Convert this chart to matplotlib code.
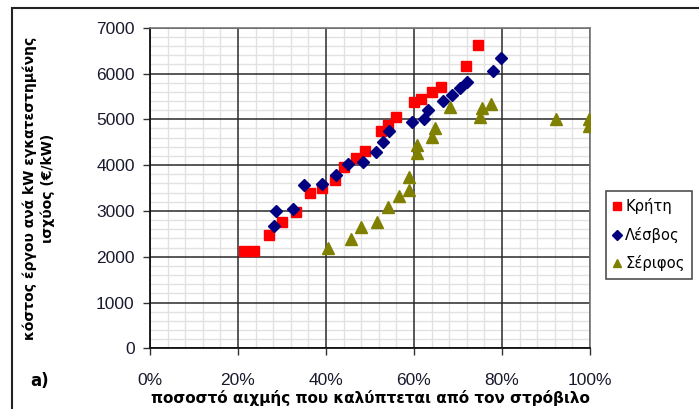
import numpy as np
import matplotlib
matplotlib.use("Agg")
import matplotlib.pyplot as plt
from matplotlib.patches import Rectangle
from matplotlib.ticker import MultipleLocator, PercentFormatter

plt.rcParams["font.family"] = ["Liberation Sans", "DejaVu Sans"]

# percentage of peak covered by the turbine vs. project cost per installed kW
crete_x = [21.4, 23.7, 27.0, 30.1, 33.1, 36.4, 39.2, 42.0, 44.1, 46.9,
           48.8, 52.4, 54.1, 55.9, 59.9, 61.7, 64.0, 66.1, 71.9, 74.6]
crete_y = [2130, 2130, 2470, 2760, 2970, 3385, 3505, 3675, 3960, 4155,
           4310, 4745, 4885, 5040, 5385, 5440, 5605, 5700, 6175, 6620]

lesvos_x = [28.2, 28.6, 32.6, 34.9, 39.1, 42.3, 45.1, 48.5, 51.4, 52.9,
            54.4, 59.5, 62.3, 63.3, 66.5, 68.6, 70.5, 72.1, 78.0, 79.7]
lesvos_y = [2680, 3000, 3035, 3565, 3595, 3785, 4015, 4070, 4285, 4505,
            4740, 4950, 5015, 5210, 5395, 5525, 5675, 5815, 6055, 6340]

serifos_x = [40.5, 45.6, 47.9, 51.5, 54.2, 56.5, 58.9, 58.8, 60.6, 60.6,
             64.2, 64.8, 68.1, 75.0, 75.4, 77.4, 92.3, 99.8, 99.8]
serifos_y = [2195, 2380, 2640, 2765, 3080, 3335, 3465, 3740, 4260, 4440,
             4620, 4800, 5260, 5060, 5245, 5335, 5015, 5015, 4855]

fig = plt.figure(figsize=(6.99, 4.09), dpi=100)
ax = fig.add_axes([0.2146, 0.1484, 0.6294, 0.7838])

ax.plot(crete_x, crete_y, "s", color="#ff0000", ms=7, mec="#ff0000", label="Κρήτη", zorder=3)
ax.plot(lesvos_x, lesvos_y, "D", color="#000080", ms=6, mec="#000080", label="Λέσβος", zorder=3)
ax.plot(serifos_x, serifos_y, "^", color="#808000", ms=8, mec="#808000", label="Σέριφος", zorder=3)

ax.set_xlim(0, 100)
ax.set_ylim(0, 7000)
ax.xaxis.set_major_locator(MultipleLocator(20))
ax.xaxis.set_minor_locator(MultipleLocator(4))
ax.yaxis.set_major_locator(MultipleLocator(1000))
ax.yaxis.set_minor_locator(MultipleLocator(200))
ax.xaxis.set_major_formatter(PercentFormatter(decimals=0))

# light minor grid from the axis, dark major grid drawn on top of it
ax.grid(which="minor", color="#e2e2e2", lw=1.0)
ax.set_axisbelow(True)
ax.vlines(ax.get_xticks(), 0, 7000, color="#2a2a2a", lw=1.1, zorder=1.5)
ax.hlines(ax.get_yticks(), 0, 100, color="#2a2a2a", lw=1.1, zorder=1.5)
ax.set_xlim(0, 100)
ax.set_ylim(0, 7000)

ax.tick_params(which="minor", length=0)
ax.tick_params(which="major", length=5, width=1, color="#333333",
               labelsize=12.5, labelcolor="#1a1a2e")
ax.tick_params(axis="x", pad=13)
ax.tick_params(axis="y", pad=6)

for side in ("left", "bottom"):
    ax.spines[side].set_color("#111111")
    ax.spines[side].set_linewidth(1.3)
for side in ("top", "right"):
    ax.spines[side].set_color("#777777")
    ax.spines[side].set_linewidth(1.2)

ax.set_xlabel("ποσοστό αιχμής που καλύπτεται από τον στρόβιλο",
              fontsize=11, fontweight="bold", labelpad=1,
              family=["DejaVu Sans"])

fig.text(0.055, 0.54, "κόστος έργου ανά kW εγκατεστημένης\nισχύος (€/kW)",
         rotation=90, ha="center", va="center", fontsize=10,
         fontweight="bold", linespacing=1.3, family=["DejaVu Sans"])
fig.text(0.043, 0.068, "a)", fontsize=12, fontweight="bold", ha="left", va="center",
         family=["DejaVu Sans"])

leg = fig.legend(loc="upper left", bbox_to_anchor=(0.867, 0.533),
                 prop={"family": "DejaVu Sans", "size": 10.6}, frameon=True,
                 fancybox=False, handlelength=0.5, handletextpad=0.3,
                 borderpad=0.5, labelspacing=0.85, borderaxespad=0,
                 markerscale=0.8)
leg.get_frame().set_edgecolor("#222222")
leg.get_frame().set_linewidth(1.2)

# outer frame around the whole chart
fig.patches.append(Rectangle((12 / 699, -0.02), 1.5, 1 - 8 / 409 + 0.02,
                             transform=fig.transFigure, fill=False,
                             edgecolor="#222222", lw=1.5))

fig.savefig("out.png", dpi=100)
